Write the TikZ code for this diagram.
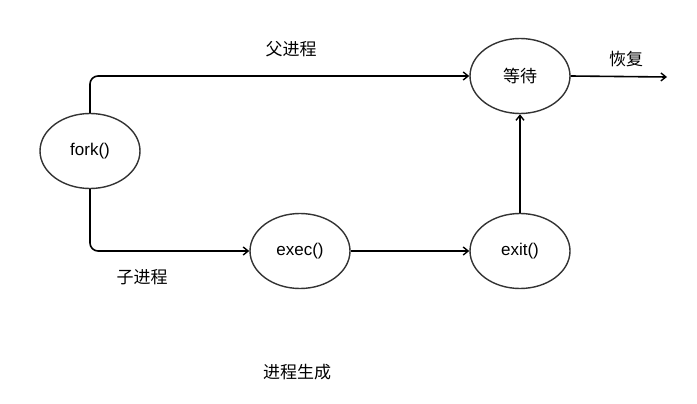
\documentclass[tikz,border=0pt]{standalone}
\usepackage{fontspec}
\setmainfont{Liberation Sans}
\newfontfamily\cjk{Noto Sans CJK SC}
\usetikzlibrary{arrows.meta,shapes.geometric}
\begin{document}
\begin{tikzpicture}[x=1pt,y=-1pt,
  st/.style={ellipse,draw=black!80,line width=1.4pt,minimum width=100pt,minimum height=75pt,inner sep=0pt,font=\fontsize{17}{20}\selectfont},
  conn/.style={line width=1.6pt,-{Straight Barb[length=5pt,width=8pt,line width=1.4pt]},rounded corners=8pt},
  lbl/.style={font=\cjk\fontsize{17}{20}\selectfont}]
\useasboundingbox (0,0) rectangle (697,404);
\node[st] (fork) at (90,151) {fork()};
\node[st] (wait) at (520,76) {\cjk 等待};
\node[st] (exec) at (300,251) {exec()};
\node[st] (exit) at (520,251) {exit()};
\coordinate (out) at (667,77);
\draw[conn] (fork.north) |- (wait.west);
\draw[conn] (fork.south) |- (exec.west);
\draw[conn] (exec.east) -- (exit.west);
\draw[conn] (exit.north) -- (wait.south);
\draw[conn] (wait.east) -- (out);
\node[lbl] (l1) at (291,49) {父进程};
\node[lbl] (l2) at (142,277) {子进程};
\node[lbl] (l3) at (626,59) {恢复};
\node[lbl] (l4) at (297,372) {进程生成};
\end{tikzpicture}
\end{document}
